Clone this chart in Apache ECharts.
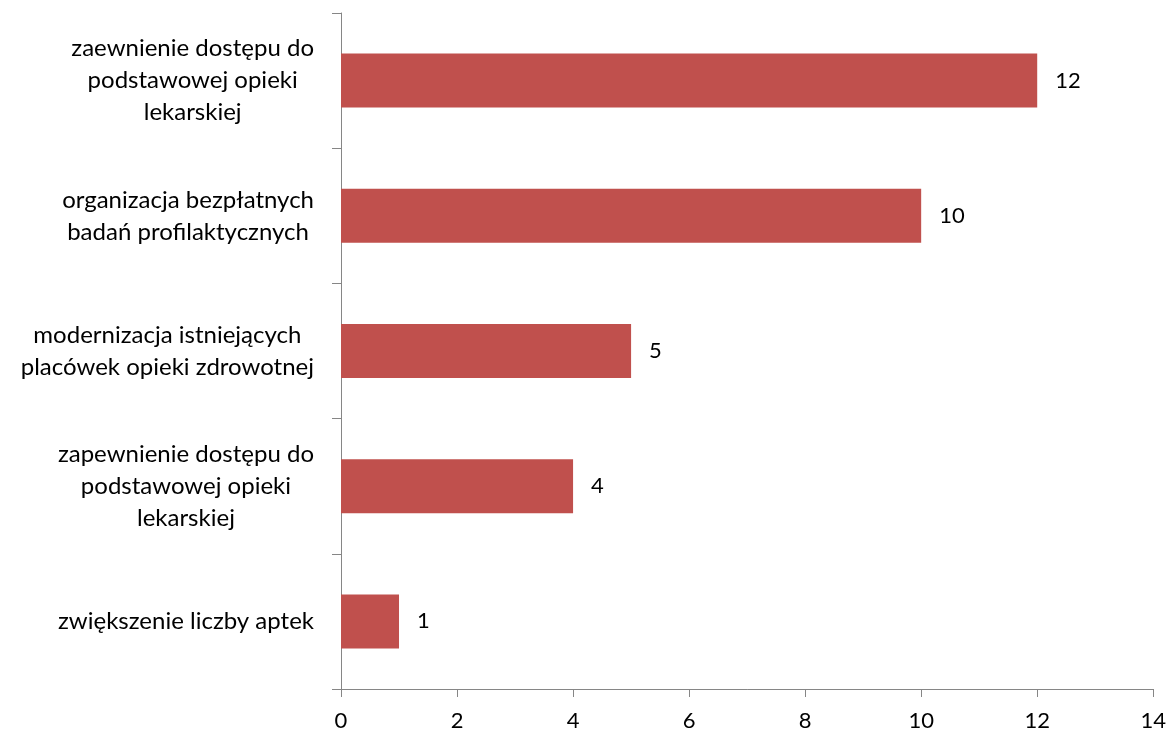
<!DOCTYPE html>
<html>
<head>
<meta charset="utf-8">
<script src="https://cdn.jsdelivr.net/npm/echarts@6/dist/echarts.min.js"></script>
<style>html,body{margin:0;padding:0;background:#fff}#c{width:1169px;height:733px}</style>
</head>
<body>
<div id="c"></div>
<script>
const categories = [
  "zaewnienie dostępu do\npodstawowej opieki\nlekarskiej",
  "organizacja bezpłatnych\nbadań profilaktycznych",
  "modernizacja istniejących\nplacówek opieki zdrowotnej",
  "zapewnienie dostępu do\npodstawowej opieki\nlekarskiej",
  "zwiększenie liczby aptek"
];
const values = [12, 10, 5, 4, 1];
const xTicks = { min: 0, max: 14, interval: 2 };

const FONT = "Lato, 'Open Sans', sans-serif";
const FS = 24;
const NFS = 22;
const chart = echarts.init(document.getElementById('c'), null, { renderer: 'canvas' });
chart.setOption({
  animation: false,
  backgroundColor: '#ffffff',
  grid: { left: 341, right: 15, top: 13, bottom: 44, containLabel: false },
  xAxis: {
    type: 'value', min: xTicks.min, max: xTicks.max, interval: xTicks.interval,
    axisLine: { show: true, lineStyle: { color: '#868686', width: 1 } },
    axisTick: { show: true, length: 8, lineStyle: { color: '#868686' } },
    splitLine: { show: false },
    axisLabel: { color: '#000', fontSize: NFS, fontFamily: FONT, margin: 21 }
  },
  yAxis: {
    type: 'category', data: categories, inverse: true,
    axisLine: { show: true, lineStyle: { color: '#868686', width: 1 } },
    axisTick: { show: true, length: 9, alignWithLabel: false, lineStyle: { color: '#868686' } },
    axisLabel: {
      color: '#000', fontSize: FS, fontFamily: FONT, margin: 27, align: 'right',
      formatter: v => v.split('\n').map(l => '{c|' + l + '}').join('\n'),
      rich: { c: { align: 'center', fontSize: FS, fontFamily: FONT, lineHeight: 32, color: '#000' } }
    }
  },
  series: [{
    type: 'bar', data: values, barWidth: 54,
    itemStyle: { color: '#C0504D' },
    label: { show: true, position: 'right', distance: 18, color: '#000', fontSize: NFS, fontFamily: FONT }
  }]
});
</script>
</body>
</html>
